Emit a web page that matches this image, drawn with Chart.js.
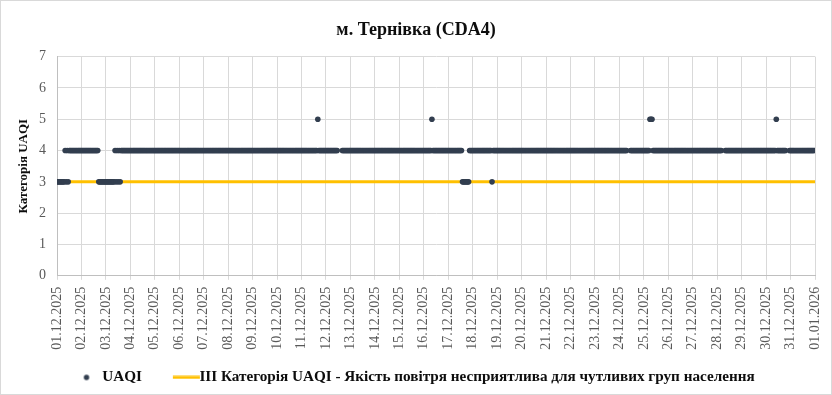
<!DOCTYPE html>
<html><head><meta charset="utf-8">
<script src="https://cdn.jsdelivr.net/npm/chart.js@4"></script>
<style>
html,body{margin:0;padding:0;background:#fff}
#wrap{position:relative;width:832px;height:395px}
</style></head>
<body><div id="wrap"><canvas id="c"></canvas></div>
<script>
// ---- data ----
const chartTitle = 'м. Тернівка (CDA4)';
const yTitle = 'Категорія UAQI';
const seriesName = 'UAQI';
const thresholdName = 'III Категорія UAQI - Якість повітря несприятлива для чутливих груп населення';
const dateLabels = ['01.12.2025','02.12.2025','03.12.2025','04.12.2025','05.12.2025','06.12.2025','07.12.2025','08.12.2025','09.12.2025','10.12.2025','11.12.2025','12.12.2025','13.12.2025','14.12.2025','15.12.2025','16.12.2025','17.12.2025','18.12.2025','19.12.2025','20.12.2025','21.12.2025','22.12.2025','23.12.2025','24.12.2025','25.12.2025','26.12.2025','27.12.2025','28.12.2025','29.12.2025','30.12.2025','31.12.2025','01.01.2026'];
// hourly UAQI category, one row per day (hours 00..23)
const n = null;
const uaqiByDay = [
 [3,3,3,3,3,3,3,3,4,3,4,3,4,4,4,4,4,4,4,4,4,4,4,4], // 01.12
 [4,4,4,4,4,4,4,4,4,4,4,4,4,4,4,4,4,3,3,3,3,3,3,3], // 02.12
 [3,3,3,3,3,3,3,3,3,4,3,4,3,4,3,4,4,4,4,4,4,4,4,4], // 03.12
 [4,4,4,4,4,4,4,4,4,4,4,4,4,4,4,4,4,4,4,4,4,4,4,4], // 04.12
 [4,4,4,4,4,4,4,4,4,4,4,4,4,4,4,4,4,4,4,4,4,4,4,4], // 05.12
 [4,4,4,4,4,4,4,4,4,4,4,4,4,4,4,4,4,4,4,4,4,4,4,4], // 06.12
 [4,4,4,4,4,4,4,4,4,4,4,4,4,4,4,4,4,4,4,4,4,4,4,4], // 07.12
 [4,4,4,4,4,4,4,4,4,4,4,4,4,4,4,4,4,4,4,4,4,4,4,4], // 08.12
 [4,4,4,4,4,4,4,4,4,4,4,4,4,4,4,4,4,4,4,4,4,4,4,4], // 09.12
 [4,4,4,4,4,4,4,4,4,4,4,4,4,4,4,4,4,4,4,4,4,4,4,4], // 10.12
 [4,4,4,4,4,4,4,4,4,4,4,4,4,4,4,4,5,4,4,4,4,4,4,4], // 11.12
 [4,4,4,4,4,4,4,4,4,4,4,4,n,n,n,n,4,4,4,4,4,4,4,4], // 12.12
 [4,4,4,4,4,4,4,4,4,4,4,4,4,4,4,4,4,4,4,4,4,4,4,4], // 13.12
 [4,4,4,4,4,4,4,4,4,4,4,4,4,4,4,4,4,4,4,4,4,4,4,4], // 14.12
 [4,4,4,4,4,4,4,4,4,4,4,4,4,4,4,4,4,4,4,4,4,4,4,4], // 15.12
 [4,4,4,4,4,4,4,4,5,4,4,4,4,4,4,4,4,4,4,4,4,4,4,4], // 16.12
 [4,4,4,4,4,4,4,4,4,4,4,4,4,4,3,3,3,3,3,3,3,4,4,4], // 17.12
 [4,4,4,4,4,4,4,4,4,4,4,4,4,4,4,4,4,4,4,3,4,4,4,4], // 18.12
 [4,4,4,4,4,4,4,4,4,4,4,4,4,4,4,4,4,4,4,4,4,4,4,4], // 19.12
 [4,4,4,4,4,4,4,4,4,4,4,4,4,4,4,4,4,4,4,4,4,4,4,4], // 20.12
 [4,4,4,4,4,4,4,4,4,4,4,4,4,4,4,4,4,4,4,4,4,4,4,4], // 21.12
 [4,4,4,4,4,4,4,4,4,4,4,4,4,4,4,4,4,4,4,4,4,4,4,4], // 22.12
 [4,4,4,4,4,4,4,4,4,4,4,4,4,4,4,4,4,4,4,4,4,4,4,4], // 23.12
 [4,4,4,4,4,4,4,4,n,n,n,4,4,4,4,4,4,4,4,4,4,4,4,4], // 24.12
 [4,4,4,4,4,4,5,5,5,4,4,4,4,4,4,4,4,4,4,4,4,4,4,4], // 25.12
 [4,4,4,4,4,4,4,4,4,4,4,4,4,4,4,4,4,4,4,4,4,4,4,4], // 26.12
 [4,4,4,4,4,4,4,4,4,4,4,4,4,4,4,4,4,4,4,4,4,4,4,4], // 27.12
 [4,4,4,4,4,n,n,n,4,4,4,4,4,4,4,4,4,4,4,4,4,4,4,4], // 28.12
 [4,4,4,4,4,4,4,4,4,4,4,4,4,4,4,4,4,4,4,4,4,4,4,4], // 29.12
 [4,4,4,4,4,4,4,4,4,4,5,4,4,4,4,4,4,4,4,4,n,n,n,4], // 30.12
 [4,4,4,4,4,4,4,4,4,4,4,4,4,4,4,4,4,4,4,4,4,4,4,4]  // 31.12
];
const thresholdLevel = [3, 3];       // III category level, start & end
const thresholdHours = [0, 744];     // hours from 01.12.2025 00:00

// ---- build ----
const pointColor = '#323E4F';
const lineColor = '#FFC000';
const uaqiPoints = [];
uaqiByDay.forEach((row, d) => row.forEach((v, h) => { if (v !== null) uaqiPoints.push({x: d * 24 + h, y: v}); }));
const thresholdPoints = thresholdHours.map((x, i) => ({x, y: thresholdLevel[i]}));

// legend symbols (symbol box width 40, image centred at item x + 20, text starts at item x + 47.6)
function dotImg(){const c=document.createElement('canvas');c.width=40;c.height=8;const g=c.getContext('2d');g.fillStyle=pointColor;g.beginPath();g.arc(31.9,4,2.7,0,Math.PI*2);g.fill();return c;}
function lineImg(){const c=document.createElement('canvas');c.width=96;c.height=4;const g=c.getContext('2d');g.fillStyle=lineColor;g.fillRect(49,0.5,27,3);return c;}
const legendImgs = [dotImg(), lineImg()];
const legendTail = ['', '\u00A0\u00A0\u00A0\u00A0\u00A0\u00A0'];

const serif = '"Liberation Serif", "Times New Roman", serif';

const borderPlugin = {
  id: 'outerBorder',
  afterDraw(chart){const g=chart.ctx;g.save();g.strokeStyle='#d9d9d9';g.lineWidth=1;g.strokeRect(0.5,0.5,chart.width-1,chart.height-1);g.restore();}
};

new Chart(document.getElementById('c'), {
  type: 'scatter',
  data: {
    datasets: [
      {label: seriesName, data: uaqiPoints, showLine: false, pointRadius: 2.8, pointHoverRadius: 2.8,
       pointBorderWidth: 0, backgroundColor: pointColor, borderColor: pointColor},
      {label: thresholdName, data: thresholdPoints, showLine: true, pointRadius: 0, borderColor: lineColor,
       backgroundColor: lineColor, borderWidth: 3}
    ]
  },
  options: {
    responsive: true, maintainAspectRatio: false, animation: false,
    layout: {padding: {left: 0, right: 0, top: 0, bottom: 0}},
    plugins: {
      tooltip: {enabled: false},
      title: {display: true, text: chartTitle, color: '#0d0d0d', font: {family: serif, size: 18, weight: 'bold'}, padding: {top: 20, bottom: 15}},
      legend: {position: 'bottom',
        labels: {usePointStyle: true, pointStyleWidth: 40, boxWidth: 40, boxHeight: 10, padding: 10, color: '#0d0d0d',
          font: {family: serif, size: 15.2, weight: 'bold'},
          generateLabels(chart){
            const items = Chart.defaults.plugins.legend.labels.generateLabels(chart);
            items.forEach((it, i) => { it.pointStyle = legendImgs[i]; it.text = it.text + legendTail[i]; });
            return items;
          }}}
    },
    scales: {
      x: {type: 'linear', min: 0, max: 744,
        afterBuildTicks(scale){ scale.ticks = dateLabels.map((_, i) => ({value: i * 24})); },
        afterFit(scale){ scale.height = 84; scale.paddingLeft = 0; scale.paddingRight = 0; },
        ticks: {autoSkip: false, maxRotation: 90, minRotation: 90, color: '#595959', padding: 7,
          font: {family: serif, size: 14},
          callback: (v) => dateLabels[Math.round(v / 24)]},
        grid: {color: '#d9d9d9', tickLength: 4},
        border: {color: '#bfbfbf'}
      },
      y: {min: 0, max: 7,
        afterFit(scale){ scale.width = 57; },
        ticks: {stepSize: 1, color: '#595959', padding: 11, font: {family: serif, size: 14}},
        grid: {color: '#d9d9d9', drawTicks: false},
        border: {color: '#bfbfbf'},
        title: {display: true, text: yTitle, color: '#0d0d0d', font: {family: serif, size: 13, weight: 'bold'}, padding: {top: 16, bottom: 0}}
      },
      yRight: {position: 'right', min: 0, max: 7,
        afterFit(scale){ scale.width = 17; },
        ticks: {display: false}, grid: {display: false, drawOnChartArea: false}, border: {display: false}
      }
    }
  },
  plugins: [borderPlugin]
});
</script>
</body></html>
